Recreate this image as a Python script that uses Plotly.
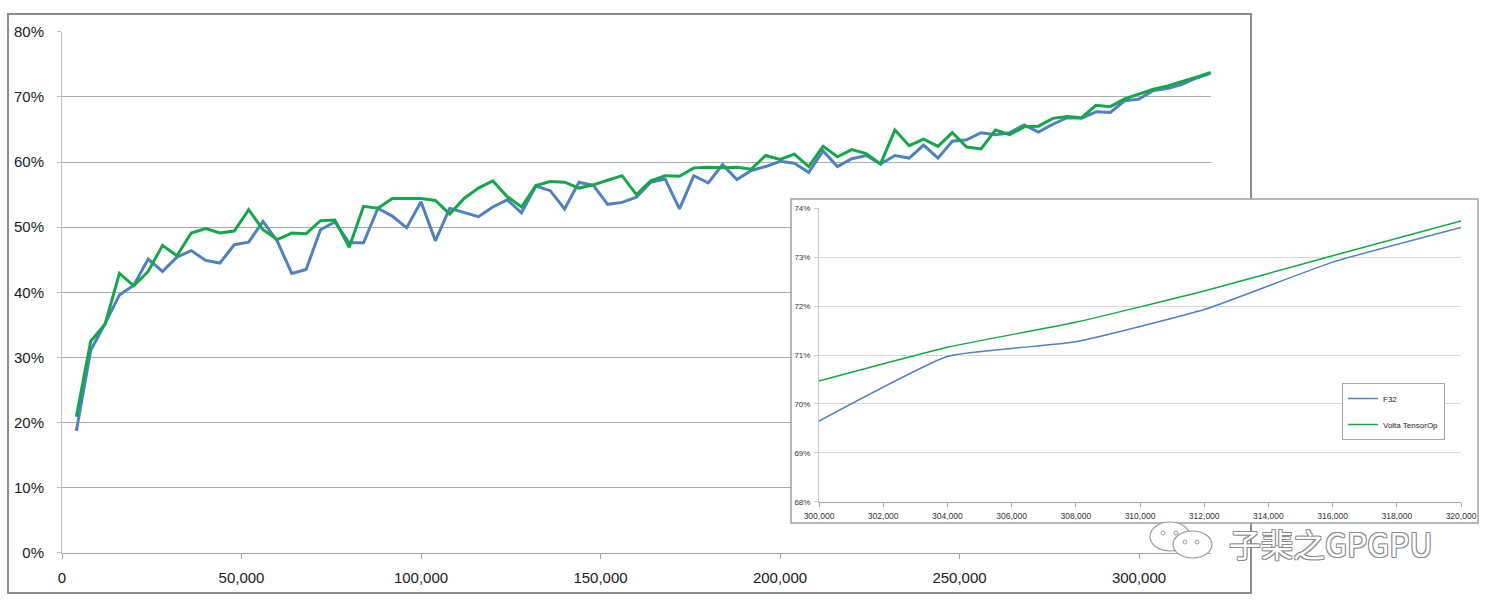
import plotly.graph_objects as go

# ---------------- data ----------------
steps = [4000, 8000, 12000, 16000, 20000, 24000, 28000, 32000, 36000, 40000,
         44000, 48000, 52000, 56000, 60000, 64000, 68000, 72000, 76000, 80000,
         84000, 88000, 92000, 96000, 100000, 104000, 108000, 112000, 116000, 120000,
         124000, 128000, 132000, 136000, 140000, 144000, 148000, 152000, 156000, 160000,
         164000, 168000, 172000, 176000, 180000, 184000, 188000, 192000, 196000, 200000,
         204000, 208000, 212000, 216000, 220000, 224000, 228000, 232000, 236000, 240000,
         244000, 248000, 252000, 256000, 260000, 264000, 268000, 272000, 276000, 280000,
         284000, 288000, 292000, 296000, 300000, 304000, 308000, 312000, 316000, 320000]

f32 = [18.7, 31.1, 35.2, 39.6, 41.1, 45.1, 43.2, 45.4, 46.4, 44.9,
       44.5, 47.3, 47.7, 50.9, 47.8, 42.9, 43.5, 49.6, 50.8, 47.6,
       47.6, 52.9, 51.7, 49.9, 53.9, 47.9, 52.9, 52.3, 51.6, 53.1,
       54.2, 52.2, 56.3, 55.6, 52.8, 56.9, 56.4, 53.5, 53.8, 54.6,
       56.9, 57.4, 52.8, 57.9, 56.8, 59.6, 57.3, 58.7, 59.3, 60.1,
       59.8, 58.4, 61.7, 59.3, 60.5, 61.0, 59.7, 61.0, 60.6, 62.6,
       60.6, 63.2, 63.4, 64.5, 64.2, 64.5, 65.7, 64.6, 65.8, 66.8,
       66.7, 67.7, 67.6, 69.4, 69.65, 70.97, 71.27, 71.93, 72.9, 73.61]

volta = [20.9, 32.5, 35.1, 42.9, 41.0, 43.2, 47.2, 45.6, 49.1, 49.8,
         49.1, 49.4, 52.7, 49.6, 48.1, 49.1, 49.0, 51.0, 51.1, 46.9,
         53.2, 52.9, 54.4, 54.4, 54.4, 54.1, 52.0, 54.4, 56.0, 57.1,
         54.7, 53.1, 56.4, 57.0, 56.9, 56.0, 56.5, 57.2, 57.9, 55.0,
         57.1, 57.9, 57.8, 59.1, 59.2, 59.1, 59.2, 58.9, 61.0, 60.4,
         61.2, 59.3, 62.4, 60.8, 61.9, 61.3, 59.7, 64.9, 62.5, 63.5,
         62.4, 64.5, 62.3, 62.0, 64.9, 64.2, 65.4, 65.5, 66.7, 67.0,
         66.8, 68.7, 68.5, 69.7, 70.47, 71.16, 71.67, 72.31, 73.03, 73.74]

series_names = ["F32", "Volta TensorOp"]
main_xticks = [0, 50000, 100000, 150000, 200000, 250000, 300000]
inset_start = 300000

# ---------------- helpers ----------------
W, H = 1497, 600
def px(x):
    return x / W
def py(y):
    return 1 - y / H

BLUE = "#4F81BD"
GREEN = "#12A84A"
FONT = "Liberation Sans"

f32_frac = [v / 100 for v in f32]
volta_frac = [v / 100 for v in volta]
i0 = steps.index(inset_start)

fig = go.Figure()

# main chart
fig.add_trace(go.Scatter(x=steps, y=f32_frac, mode="lines", name=series_names[0],
                         line=dict(color=BLUE, width=3), showlegend=False,
                         xaxis="x", yaxis="y"))
fig.add_trace(go.Scatter(x=steps, y=volta_frac, mode="lines", name=series_names[1],
                         line=dict(color=GREEN, width=3), showlegend=False,
                         xaxis="x", yaxis="y"))

# inset frame (white panel covering the main chart)
fig.add_trace(go.Scatter(x=[], y=[], mode="lines", showlegend=False,
                         hoverinfo="skip", xaxis="x2", yaxis="y2"))

# inset chart
fig.add_trace(go.Scatter(x=steps[i0:], y=f32_frac[i0:], mode="lines", name=series_names[0],
                         line=dict(color=BLUE, width=1.5, shape="spline", smoothing=0.4),
                         legendgroup="a", xaxis="x3", yaxis="y3"))
fig.add_trace(go.Scatter(x=steps[i0:], y=volta_frac[i0:], mode="lines", name=series_names[1],
                         line=dict(color=GREEN, width=1.5, shape="spline", smoothing=0.4),
                         legendgroup="b", xaxis="x3", yaxis="y3"))

hidden = dict(showgrid=False, showticklabels=False, zeroline=False, showline=False,
              ticks="", range=[0, 1], fixedrange=True, automargin=False)

fig.update_layout(
    width=W, height=H, autosize=False,
    margin=dict(l=0, r=0, t=0, b=0, pad=0),
    paper_bgcolor="white", plot_bgcolor="white",
    font=dict(family=FONT, color="#1a1a1a"),
    xaxis=dict(domain=[px(62), px(1210.8)], range=[0, 320000], anchor="y",
               automargin=False,
               tickvals=main_xticks, tickformat=",d",
               showgrid=False, zeroline=False,
               showline=True, linecolor="#a6a6a6", linewidth=1,
               ticks="outside", ticklen=5, tickcolor="#a6a6a6",
               ticklabelstandoff=6,
               tickfont=dict(size=15, family=FONT, color="#1a1a1a")),
    yaxis=dict(domain=[py(552.9), py(31.7)], range=[0, 0.80001], anchor="x",
               automargin=False,
               dtick=0.1, tickformat=".0%",
               showgrid=True, gridcolor="#ababab", gridwidth=1, zeroline=False,
               showline=True, linecolor="#bfbfbf", linewidth=1,
               ticks="outside", ticklen=4, tickcolor="#bfbfbf",
               ticklabelstandoff=10,
               tickfont=dict(size=15, family=FONT, color="#1a1a1a")),
    xaxis2=dict(domain=[px(791), px(1478)], anchor="y2", **hidden),
    yaxis2=dict(domain=[py(523), py(199)], anchor="x2", **hidden),
    xaxis3=dict(domain=[px(819), px(1461)], range=[300000, 320000], anchor="y3",
                automargin=False,
                dtick=2000, tickformat=",d",
                showgrid=False, zeroline=False,
                showline=True, linecolor="#a6a6a6", linewidth=1,
                ticks="outside", ticklen=4, tickcolor="#a6a6a6",
                ticklabelstandoff=2,
                tickfont=dict(size=8.5, family=FONT, color="#333333")),
    yaxis3=dict(domain=[py(501.7), py(208.3)], range=[0.68, 0.74001], anchor="x3",
                automargin=False,
                dtick=0.01, tickformat=".0%",
                showgrid=True, gridcolor="#d9d9d9", gridwidth=1, zeroline=False,
                showline=True, linecolor="#c8c8c8", linewidth=1,
                ticks="outside", ticklen=4, tickcolor="#c8c8c8",
                ticklabelstandoff=2,
                tickfont=dict(size=8, family=FONT, color="#333333")),
    legend=dict(x=px(1342), y=py(383), xanchor="left", yanchor="top",
                bgcolor="white", bordercolor="#a6a6a6", borderwidth=1,
                font=dict(size=8, family=FONT, color="#222222"),
                traceorder="grouped", tracegroupgap=7,
                itemwidth=30),
    showlegend=True,
)

shapes = [
    # main chart frame
    dict(type="rect", xref="paper", yref="paper", layer="below",
         x0=px(8), x1=px(1251), y0=py(593), y1=py(14),
         line=dict(color="#8c8c8c", width=2), fillcolor="rgba(0,0,0,0)"),
    # inset frame
    dict(type="rect", xref="paper", yref="paper", layer="above",
         x0=px(791), x1=px(1478), y0=py(523), y1=py(199),
         line=dict(color="#a0a0a0", width=1.5), fillcolor="rgba(0,0,0,0)"),
    # watermark logo (two speech bubbles)
    dict(type="circle", xref="paper", yref="paper", layer="above",
         x0=px(1150), x1=px(1190), y0=py(551), y1=py(522),
         line=dict(color="#9a9a9a", width=1.2), fillcolor="white"),
    dict(type="circle", xref="paper", yref="paper", layer="above",
         x0=px(1173), x1=px(1212), y0=py(558), y1=py(531),
         line=dict(color="#9a9a9a", width=1.2), fillcolor="white"),
]
for cx, cy in [(1163, 533), (1176, 533), (1185, 542), (1197, 542)]:
    shapes.append(dict(type="circle", xref="paper", yref="paper", layer="above",
                       x0=px(cx - 2), x1=px(cx + 2), y0=py(cy + 2), y1=py(cy - 2),
                       line=dict(color="#9a9a9a", width=1), fillcolor="white"))
fig.update_layout(shapes=shapes)

fig.add_annotation(
    text="子棐之GPGPU", xref="paper", yref="paper",
    x=px(1331), y=py(543), xanchor="center", yanchor="middle", showarrow=False,
    font=dict(size=32, family="Noto Sans CJK SC", color="white",
              shadow="1px 1px 0 #8a8a8a, -1px -1px 0 #8a8a8a, 1px -1px 0 #8a8a8a, -1px 1px 0 #8a8a8a"),
)

fig.write_html("out.html", config={"displayModeBar": False},
               post_script="document.body.style.margin='0';document.body.style.padding='0';document.body.style.overflow='hidden';")
